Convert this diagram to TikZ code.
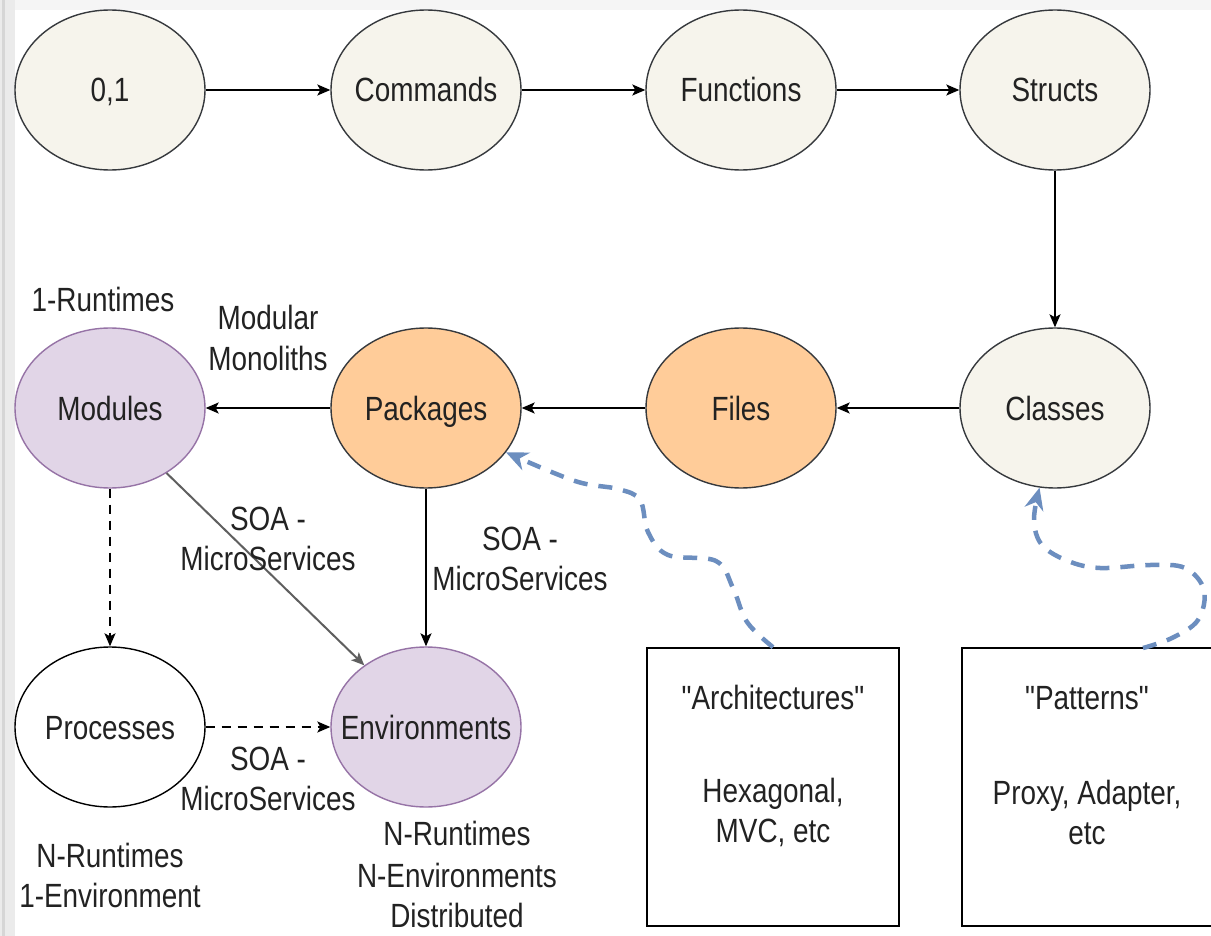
\documentclass[tikz,border=0pt]{standalone}
\usepackage{fontspec}
\setmainfont[FakeStretch=0.83, Ligatures=TeXOff]{Liberation Sans}
\usetikzlibrary{shapes.geometric,arrows.meta,calc}
\definecolor{ink}{HTML}{222222}
\definecolor{beige}{HTML}{F6F4EC}
\definecolor{beigeline}{HTML}{36393D}
\definecolor{orangefill}{HTML}{FFCC99}
\definecolor{purplefill}{HTML}{E1D5E7}
\definecolor{purpleline}{HTML}{9673A6}
\definecolor{bluelink}{HTML}{6C8EBF}
\definecolor{edgegray}{HTML}{5F5F5F}
\tikzset{
  txt/.style={font=\fontsize{33.6}{40}\selectfont, text=ink, inner sep=0pt, align=center},
  ell/.style={ellipse, minimum width=190pt, minimum height=160pt, inner sep=0pt, line width=1.4pt},
  plain/.style={ell, draw=beigeline, fill=beige},
  orangeell/.style={ell, draw=beigeline, fill=orangefill},
  purpleell/.style={ell, draw=purpleline, fill=purplefill},
  whiteell/.style={ell, draw=black, fill=white},
  every label/.style={txt, text height=24pt, text depth=0pt},
  notebox/.style={draw=black, line width=1.6pt, fill=white, minimum height=278pt, inner sep=0pt},
  flow/.style={line width=1.5pt, -{Stealth[length=13pt, width=11pt, inset=3pt]}},
  dashflow/.style={flow, dash pattern=on 9pt off 7pt},
  grayflow/.style={flow, draw=edgegray, line width=2pt},
  hint/.style={draw=bluelink, line width=4.5pt, dash pattern=on 14pt off 11pt,
    -{Stealth[length=22pt, width=19pt, inset=7pt, fill=bluelink]}},
}
\begin{document}
\begin{tikzpicture}[x=1pt, y=-1pt]
  % page frame and grey edges
  \fill[white] (0,0) rectangle (1211,936);
  \fill[black!4] (0,0) rectangle (1211,10);
  \fill[black!8] (0,0) rectangle (15,936);
  \fill[black!16] (2,0) rectangle (5,936);
  \useasboundingbox (0,0) rectangle (1211,936);

  % top row
  \node[plain, label={center:0,1}] (bits) at (110,90) {};
  \node[plain, label={center:Commands}] (cmd) at (426,90) {};
  \node[plain, label={center:Functions}] (fun) at (741,90) {};
  \node[plain, label={center:Structs}] (str) at (1055,90) {};

  % middle row
  \node[plain, label={center:Classes}] (cls) at (1055,408) {};
  \node[orangeell, label={center:Files}] (fil) at (741,408) {};
  \node[orangeell, label={center:Packages}] (pkg) at (426,408) {};
  \node[purpleell, label={center:Modules}] (mod) at (110,408) {};

  % bottom row
  \node[whiteell, label={center:Processes}] (proc) at (110,727) {};
  \node[purpleell, label={center:Environments}] (env) at (426,727) {};

  % note boxes
  \node[notebox, minimum width=252pt] (arch) at (773,787) {};
  \node[txt, anchor=base] at (773,709) {"Architectures"};
  \node[txt, anchor=base] at (773,842) {Hexagonal,\\MVC, etc};
  \node[notebox, minimum width=264pt] (pat) at (1094,787) {};
  \node[txt, anchor=base] at (1087,709) {"Patterns"};
  \node[txt, anchor=base] at (1087,844) {Proxy, Adapter,\\etc};

  % main chain
  \draw[flow] (bits) -- (cmd);
  \draw[flow] (cmd) -- (fun);
  \draw[flow] (fun) -- (str);
  \draw[flow] (str) -- (cls);
  \draw[flow] (cls) -- (fil);
  \draw[flow] (fil) -- (pkg);
  \draw[flow] (pkg) -- (mod);
  \draw[flow] (pkg) -- (env);
  \draw[dashflow] (mod) -- (proc);
  \draw[dashflow] (proc) -- (env);
  \draw[grayflow] (mod.-49) -- (env.135);

  % edge labels and annotations
  \node[txt, anchor=base] at (103,312) {1-Runtimes};
  \node[txt, anchor=base] at (268,370) {Modular\\Monoliths};
  \node[txt, anchor=base] at (268,570) {SOA -\\MicroServices};
  \node[txt, anchor=base] at (520,590) {SOA -\\MicroServices};
  \node[txt, anchor=base] at (268,810) {SOA -\\MicroServices};
  \node[txt, anchor=base] at (110,907) {N-Runtimes\\1-Environment};
  \node[txt, anchor=base] at (457,927) {N-Runtimes\\[2pt]N-Environments\\Distributed};

  % dashed blue references
  \coordinate (patstart) at (1143,648);
  \draw[hint] plot[smooth, tension=0.6] coordinates
    {(arch.north) (747,622) (733,588) (716,561) (668,555) (648,532) (640,500) (618,489) (575,481) (pkg.-29)};
  \draw[hint] plot[smooth, tension=0.6] coordinates
    {(patstart) (1172,638) (1198,620) (1204,590) (1185,568) (1150,565) (1100,568) (1068,561) (1042,545) (1034,520) (cls.-101)};
\end{tikzpicture}
\end{document}
